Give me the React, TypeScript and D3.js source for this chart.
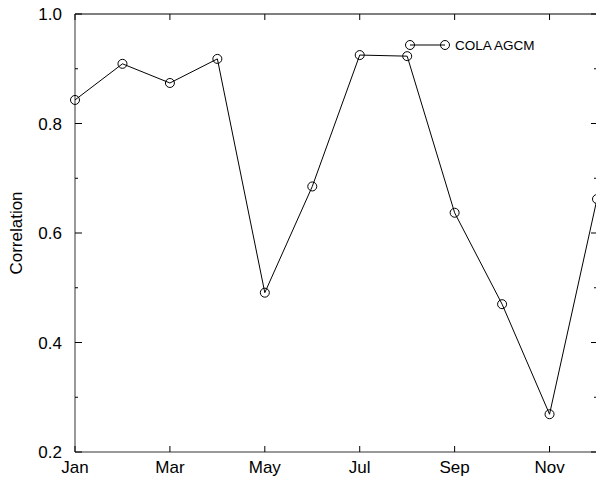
import * as d3 from "d3";

const months = ["Jan", "Feb", "Mar", "Apr", "May", "Jun", "Jul", "Aug", "Sep", "Oct", "Nov", "Dec"];
const correlation = [0.843, 0.909, 0.874, 0.918, 0.491, 0.685, 0.925, 0.923, 0.637, 0.47, 0.269, 0.662];
const xTickMonths = [1, 3, 5, 7, 9, 11];
const yMajorTicks = [0.2, 0.4, 0.6, 0.8, 1.0];
const yMinorTicks = [0.3, 0.5, 0.7, 0.9];
const seriesName = "COLA AGCM";

const width = 596;
const height = 478;
const margin = { top: 14, right: -1, bottom: 26, left: 75 };
const font = "'Liberation Sans', Arial, Helvetica, sans-serif";

const App = () => {
  const x = d3.scaleLinear().domain([1, 12]).range([margin.left, width - margin.right]);
  const y = d3.scaleLinear().domain([0.2, 1.0]).range([height - margin.bottom, margin.top]);

  const line = d3
    .line<number>()
    .x((_, i) => x(i + 1))
    .y((d) => y(d));

  const x0 = x(1);
  const x1 = x(12);
  const y0 = y(0.2);
  const y1 = y(1.0);

  return (
    <div style={{ position: "absolute", left: 0, top: 0 }}>
      <svg width={width} height={height} style={{ display: "block", background: "#fff" }}>
        {/* frame */}
        <line x1={x0} x2={x1} y1={y1} y2={y1} stroke="#000" strokeWidth={1} />
        <line x1={x1} x2={x1} y1={y1} y2={y0} stroke="#000" strokeWidth={1} />
        <line x1={x0} x2={x1} y1={y0} y2={y0} stroke="#777" strokeWidth={1.5} />
        <line x1={x0} x2={x0} y1={y1} y2={y0} stroke="#777" strokeWidth={1.5} />

        {/* x ticks */}
        {xTickMonths.map((m) => (
          <g key={m}>
            <line x1={x(m)} x2={x(m)} y1={y0} y2={y0 - 6} stroke="#000" />
            <line x1={x(m)} x2={x(m)} y1={y1} y2={y1 + 6} stroke="#000" />
            <text
              x={x(m)}
              y={y0 + 21}
              textAnchor="middle"
              fontFamily={font}
              fontSize={17}
              fill="#000"
            >
              {months[m - 1]}
            </text>
          </g>
        ))}

        {/* y ticks */}
        {yMajorTicks.map((v) => (
          <g key={v}>
            <line x1={x0} x2={x0 + 7} y1={y(v)} y2={y(v)} stroke="#000" />
            <line x1={x1} x2={x1 - 6} y1={y(v)} y2={y(v)} stroke="#000" />
            <text
              x={x0 - 13}
              y={y(v)}
              dy="0.36em"
              textAnchor="end"
              fontFamily={font}
              fontSize={17}
              fill="#000"
            >
              {v.toFixed(1)}
            </text>
          </g>
        ))}
        {yMinorTicks.map((v) => (
          <g key={v}>
            <line x1={x0} x2={x0 + 3} y1={y(v)} y2={y(v)} stroke="#000" />
            <line x1={x1} x2={x1 - 3} y1={y(v)} y2={y(v)} stroke="#000" />
          </g>
        ))}

        <text
          transform={`translate(22, ${(y0 + y1) / 2}) rotate(-90)`}
          textAnchor="middle"
          fontFamily={font}
          fontSize={17}
          fill="#000"
        >
          Correlation
        </text>

        {/* series */}
        <path d={line(correlation) ?? ""} fill="none" stroke="#000" strokeWidth={1} />
        {correlation.map((d, i) => (
          <circle key={i} cx={x(i + 1)} cy={y(d)} r={4.5} fill="none" stroke="#000" strokeWidth={1} />
        ))}

        {/* legend */}
        <g>
          <line x1={410} x2={445} y1={45} y2={45} stroke="#000" />
          <circle cx={410} cy={45} r={4.5} fill="none" stroke="#000" />
          <circle cx={445} cy={45} r={4.5} fill="none" stroke="#000" />
          <text x={455} y={45} dy="0.36em" fontFamily={font} fontSize={13.5} fill="#000">
            {seriesName}
          </text>
        </g>
      </svg>
    </div>
  );
};

export default App;
